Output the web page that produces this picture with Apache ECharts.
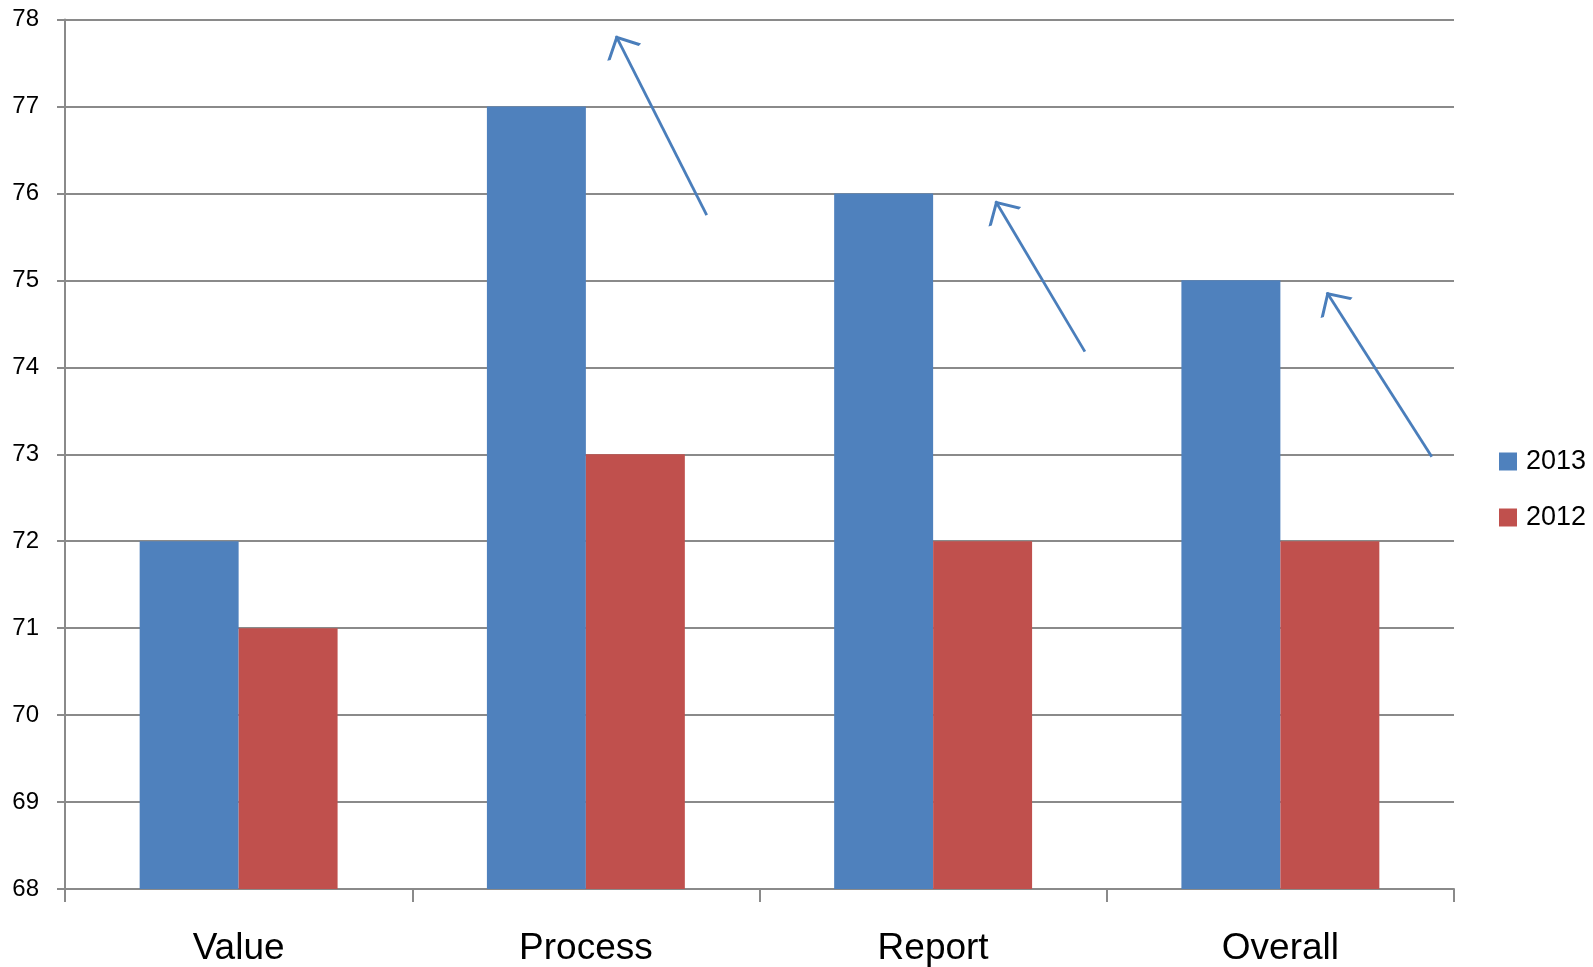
<!DOCTYPE html>
<html>
<head>
<meta charset="utf-8">
<script src="https://cdn.jsdelivr.net/npm/echarts@6/dist/echarts.min.js"></script>
<style>html,body{margin:0;padding:0;background:#fff;}#c{width:1593px;height:967px;}</style>
</head>
<body>
<div id="c"></div>
<script>
const categories = ['Value', 'Process', 'Report', 'Overall'];
const series2013 = [72, 77, 76, 75];
const series2012 = [71, 73, 72, 72];
const yTicks = [68, 69, 70, 71, 72, 73, 74, 75, 76, 77, 78];
// arrow annotations: [tailX, tailY, tipX, tipY] in (category position 0-4, value) units
const arrows = [
  [1.848, 75.75, 1.587, 77.81],
  [2.937, 74.18, 2.680, 75.91],
  [3.936, 72.97, 3.634, 74.86]
];

const gridColor = '#8a8a8a';
const fontFam = '"Liberation Sans", Arial, sans-serif';
const arrowHead = 'path://M0,-18 L0.1,-18 L0,-17.9 Z M0,0 L10.4,18 L8.6,19 L0,4 L-8.6,19 L-10.4,18 Z';

const chart = echarts.init(document.getElementById('c'));
chart.setOption({
  animation: false,
  backgroundColor: '#fff',
  grid: { left: 65, right: 139, top: 19.5, bottom: 75.5, containLabel: false },
  legend: {
    orient: 'vertical',
    left: 1499, top: 448, padding: 0,
    itemWidth: 18, itemHeight: 18, itemGap: 29,
    icon: 'rect',
    data: ['2013', '2012'],
    textStyle: { fontFamily: fontFam, fontSize: 27, color: '#000', padding: [0, 0, 0, 4] }
  },
  xAxis: [{
    type: 'category',
    data: categories,
    axisLine: { lineStyle: { color: gridColor, width: 2 } },
    axisTick: { show: true, length: 13, lineStyle: { color: gridColor, width: 2 } },
    axisLabel: { fontFamily: fontFam, fontSize: 37, color: '#000', margin: 41 }
  }, {
    type: 'value', min: 0, max: 4, show: false
  }],
  yAxis: {
    type: 'value', min: yTicks[0], max: yTicks[yTicks.length - 1], interval: 1,
    axisLine: { show: true, lineStyle: { color: gridColor, width: 2 } },
    axisTick: { show: true, length: 8, lineStyle: { color: gridColor, width: 2 } },
    axisLabel: { fontFamily: fontFam, fontSize: 24, color: '#000', margin: 26 },
    splitLine: { lineStyle: { color: gridColor, width: 2 } }
  },
  series: [{
    name: '2013', type: 'bar', data: series2013,
    itemStyle: { color: '#4f81bd' },
    barGap: '0%', barCategoryGap: '43%'
  }, {
    name: '2012', type: 'bar', data: series2012,
    itemStyle: { color: '#c0504d' },
    barGap: '0%', barCategoryGap: '43%'
  }, {
    name: 'arrows', type: 'lines', coordinateSystem: 'cartesian2d',
    xAxisIndex: 1, yAxisIndex: 0,
    symbol: ['none', arrowHead], symbolSize: [21, 38],
    lineStyle: { color: '#4a7ebb', width: 2.8, opacity: 1 },
    itemStyle: { color: '#4a7ebb' },
    data: arrows.map(a => ({ coords: [[a[0], a[1]], [a[2], a[3]]] })),
    z: 5
  }]
});
</script>
</body>
</html>
